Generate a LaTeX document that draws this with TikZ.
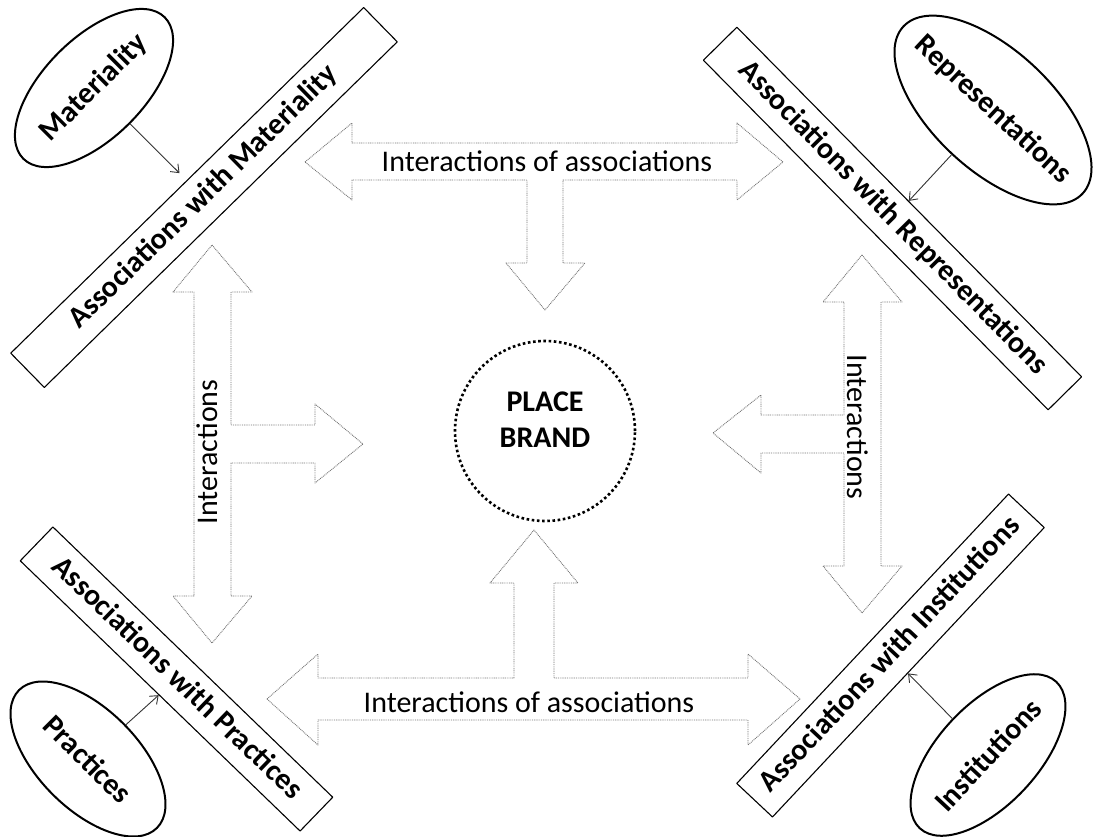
\documentclass[tikz,border=0pt]{standalone}
\usepackage{fontspec}
\setmainfont{Carlito}
\usetikzlibrary{shapes.geometric,arrows.meta}
\definecolor{aqaqaq}{rgb}{0.45,0.45,0.45}
\definecolor{uququq}{rgb}{0.2,0.2,0.2}

\begin{document}
\begin{tikzpicture}[line cap=round,line join=round,x=1pt,y=-1pt,
  >={Straight Barb[length=7pt,width=11pt]},
  assoc/.style={draw,line width=1.1pt,rectangle,inner sep=0pt,font=\fontsize{30}{36}\selectfont\bfseries,text height=21pt,text depth=6pt},
  source/.style={draw,line width=2pt,ellipse,inner sep=0pt,font=\fontsize{30}{36}\selectfont\bfseries},
  blockarrow/.style={line width=0.9pt,line cap=butt,dash pattern=on 0.9pt off 0.9pt,color=aqaqaq},
  flowtext/.style={inner sep=0pt,font=\fontsize{30}{36}\selectfont},
  link/.style={->,line width=0.9pt,color=uququq}]
\useasboundingbox (0,0) rectangle (1093,836);
% block arrows
\draw [blockarrow] (305,162) -- (352,123) -- (352,143) -- (737,143) -- (737,123) -- (783,162) -- (737,200) -- (737,180) -- (563,180) -- (563,263) -- (585,263) -- (545,310) -- (506,263) -- (527,263) -- (527,180) -- (352,180) -- (352,200) -- cycle;
\draw [blockarrow] (267,699) -- (318,654) -- (318,678) -- (514,678) -- (514,583) -- (490,583) -- (534,530) -- (578,583) -- (554,583) -- (554,678) -- (748,678) -- (748,654) -- (800,699) -- (748,745) -- (748,720) -- (318,720) -- (318,745) -- cycle;
\draw [blockarrow] (212,245) -- (252,292) -- (231,292) -- (231,425) -- (315,425) -- (315,404) -- (363,444) -- (315,483) -- (315,463) -- (231,463) -- (231,596) -- (252,596) -- (212,643) -- (173,596) -- (194,596) -- (194,292) -- (173,292) -- cycle;
\draw [blockarrow] (862,255) -- (902,302) -- (881,302) -- (881,566) -- (902,566) -- (862,613) -- (823,566) -- (844,566) -- (844,453) -- (761,453) -- (761,473) -- (713,433) -- (761,395) -- (761,415) -- (844,415) -- (844,302) -- (823,302) -- cycle;
\node [flowtext] (toptxt) at (547,161) {Interactions of associations};
\node [flowtext] (bottxt) at (529,702) {Interactions of associations};
\node [flowtext,rotate=90] (lefttxt) at (207,452) {Interactions};
\node [flowtext,rotate=-90] (righttxt) at (858,427) {Interactions};
% centre
\node [circle,draw,line width=2.6pt,line cap=butt,dash pattern=on 2.6pt off 2.6pt,minimum size=180pt] (brand) at (545,431) {};
\node [align=center,inner sep=0pt,font=\fontsize{30}{36}\selectfont\bfseries] (brandtxt) at (545,420) {PLACE\\BRAND};
% associations
\node [assoc,rotate=44.4,minimum width=494pt,minimum height=48pt] (amat) at (204,197.5) {Associations with Materiality};
\node [assoc,rotate=-45.4,minimum width=491pt,minimum height=47pt] (arep) at (892.5,218.5) {Associations with Representations};
\node [assoc,rotate=-44,minimum width=389pt,minimum height=47pt] (aprac) at (176.5,679) {Associations with Practices};
\node [assoc,rotate=46.8,minimum width=397pt,minimum height=49pt] (ainst) at (890.5,655.5) {Associations with Institutions};
% sources
\node [source,rotate=45,minimum width=200pt,minimum height=100pt] (mat) at (94,88) {Materiality};
\node [source,rotate=-43,minimum width=245pt,minimum height=120pt,inner xsep=-16pt] (rep) at (993,110) {Representations};
\node [source,rotate=-45,minimum width=195pt,minimum height=100pt] (prac) at (88,759) {Practices};
\node [source,rotate=47,minimum width=200pt,minimum height=100pt] (inst) at (988,755) {Institutions};
\draw [link,shorten >=10pt] (mat) -- (amat);
\draw [link] (rep) -- (arep);
\draw [link] (prac) -- (aprac);
\draw [link] (inst) -- (ainst);
\end{tikzpicture}
\end{document}
